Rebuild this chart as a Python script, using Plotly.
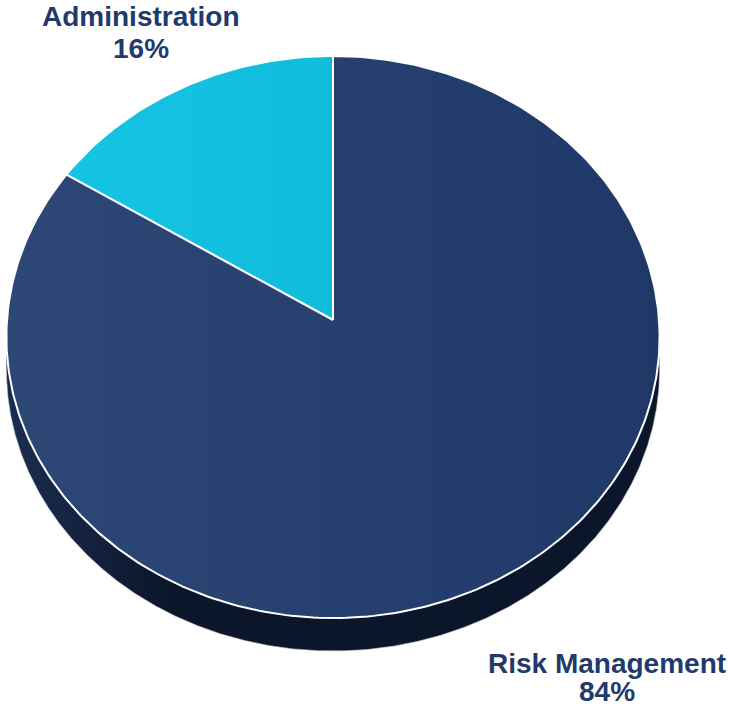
import numpy as np
import plotly.graph_objects as go

# ---- data ----
categories = ["Administration", "Risk Management"]
shares = [16, 84]  # percent
colors_top = [("#15c4e3", "#10bcdc"), ("#2d4777", "#1f3868")]
side_colors = ("#1b2d52", "#0c162b")
label_color = "#1f3a6b"

# ---- geometry (pixel space, simple perspective of a tilted disc) ----
W, H = 730, 706
vx, vy = 333, 320      # projected pie centre
kx, ky = 326, 280      # projection scales
persp = 0.0605         # perspective strength
depth = 33             # pie thickness

def proj(theta, dy=0.0):
    X = np.sin(theta)
    Y = np.cos(theta)
    d = 1 + persp * Y
    return vx - kx * X / d, vy - ky * Y / d + dy

fig = go.Figure()

# side (extrusion): lower arc between left-most and right-most rim points
th = np.linspace(0, 2 * np.pi, 2001)
rx_, ry_ = proj(th)
iL, iR = int(np.argmin(rx_)), int(np.argmax(rx_))
arc = th[iL:iR + 1] if iL < iR else np.concatenate([th[iL:], th[:iR + 1]])
xa, ya = proj(arc)
xb, yb = proj(arc[::-1], depth)
fig.add_trace(go.Scatter(
    x=np.concatenate([xa, xb]), y=np.concatenate([ya, yb]),
    mode="lines", fill="toself", line=dict(color="rgba(200,200,200,0.6)", width=1),
    fillgradient=dict(type="horizontal",
                      colorscale=[[0, side_colors[0]], [0.25, side_colors[1]], [1, side_colors[1]]]),
    hoverinfo="skip", showlegend=False))

# top-face wedges
total = sum(shares)
start = 0.0
for name, val, (c1, c2) in zip(categories, shares, colors_top):
    a0 = 2 * np.pi * start / total
    a1 = 2 * np.pi * (start + val) / total
    tt = np.linspace(a0, a1, max(20, int(400 * val / total)))
    ex, ey = proj(tt)
    xs = np.concatenate([[vx], ex, [vx]])
    ys = np.concatenate([[vy], ey, [vy]])
    fig.add_trace(go.Scatter(
        x=xs, y=ys, mode="lines", fill="toself",
        line=dict(color="white", width=2),
        fillgradient=dict(type="horizontal", colorscale=[[0, c1], [1, c2]]),
        name=name, hoverinfo="name", showlegend=False))
    start += val

# labels (one annotation per line for tight line spacing)
font = dict(family="Liberation Sans, Arial", size=28, color=label_color)
label_pos = [(141, 16, 48), (607, 663, 691)]
for (lx, y1, y2), name, val in zip(label_pos, categories, shares):
    fig.add_annotation(x=lx, y=y1, xref="x", yref="y", xanchor="center", yanchor="middle",
                       text=f"<b>{name}</b>", showarrow=False, font=font, borderpad=0)
    fig.add_annotation(x=lx, y=y2, xref="x", yref="y", xanchor="center", yanchor="middle",
                       text=f"<b>{val}%</b>", showarrow=False, font=font, borderpad=0)

fig.update_layout(
    width=W, height=H, autosize=False,
    margin=dict(l=0, r=0, t=0, b=0),
    paper_bgcolor="white", plot_bgcolor="white",
    xaxis=dict(range=[0, W], visible=False, fixedrange=True),
    yaxis=dict(range=[H, 0], visible=False, fixedrange=True),
)
fig.write_html("out.html")
